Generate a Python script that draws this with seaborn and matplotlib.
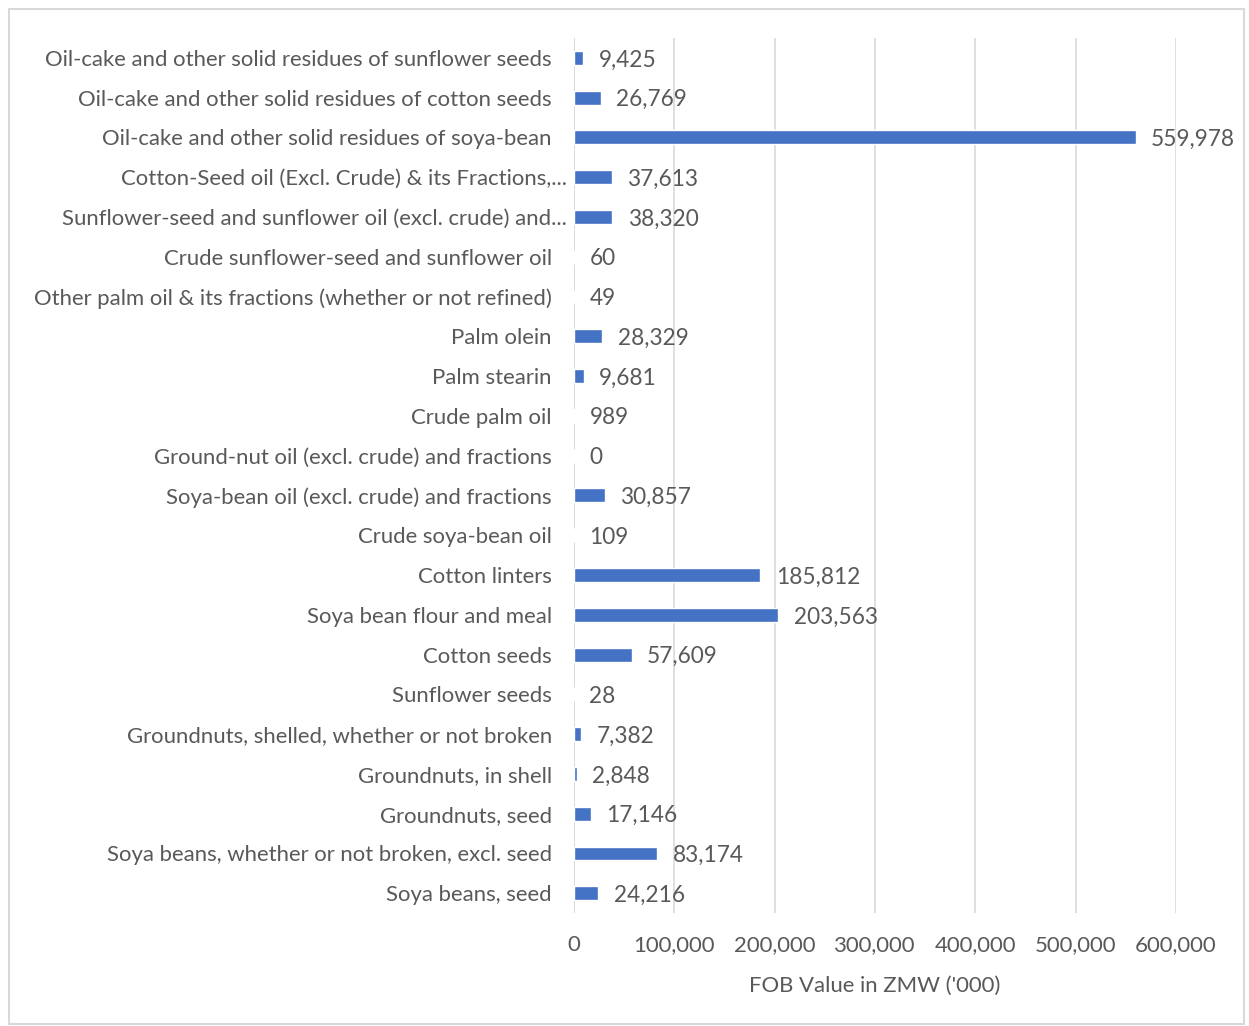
import matplotlib
matplotlib.use("Agg")
import matplotlib.pyplot as plt
import matplotlib.transforms as mtransforms
import seaborn as sns
import pandas as pd
from matplotlib.patches import Rectangle

categories = [
    "Oil-cake and other solid residues of sunflower seeds",
    "Oil-cake and other solid residues of cotton seeds",
    "Oil-cake and other solid residues of soya-bean",
    "Cotton-Seed oil (Excl. Crude) & its Fractions,...",
    "Sunflower-seed and sunflower oil (excl. crude) and...",
    "Crude sunflower-seed and sunflower oil",
    "Other palm oil & its fractions (whether or not refined)",
    "Palm olein",
    "Palm stearin",
    "Crude palm oil",
    "Ground-nut oil (excl. crude) and fractions",
    "Soya-bean oil (excl. crude) and fractions",
    "Crude soya-bean oil",
    "Cotton linters",
    "Soya bean flour and meal",
    "Cotton seeds",
    "Sunflower seeds",
    "Groundnuts, shelled, whether or not broken",
    "Groundnuts, in shell",
    "Groundnuts, seed",
    "Soya beans, whether or not broken, excl. seed",
    "Soya beans, seed",
]
values = [9425, 26769, 559978, 37613, 38320, 60, 49, 28329, 9681, 989, 0,
          30857, 109, 185812, 203563, 57609, 28, 7382, 2848, 17146, 83174, 24216]
x_ticks = [0, 100000, 200000, 300000, 400000, 500000, 600000]
x_label = "FOB Value in ZMW ('000)"

sns.set_theme(style="white")
plt.rcParams['font.family'] = ['Lato', 'DejaVu Sans']
text_color = "#595959"
fs = 15.9

df = pd.DataFrame({"category": categories, "value": values})

fig = plt.figure(figsize=(12.49, 10.26), dpi=100)
ax = fig.add_axes([0.4596, 0.110, 0.4820, 0.853])
sns.barplot(data=df, y="category", x="value", orient="h", color="#4472C4",
            width=0.35, saturation=1, ax=ax, order=categories)

ax.set_xlim(0, 600000)
ax.set_ylim(len(categories) - 0.5, -0.5)
ax.set_xticks(x_ticks)
ax.set_xticklabels([f"{t:,}" for t in x_ticks], fontsize=fs, color=text_color)
ax.tick_params(axis="y", labelsize=fs, labelcolor=text_color, length=0, pad=16)
ax.tick_params(axis="x", length=0, pad=16)
ax.set_ylabel("")
ax.set_xlabel(x_label, fontsize=fs, color=text_color, labelpad=15)
ax.grid(axis="x", color="#d9d9d9", linewidth=1.2)
ax.set_axisbelow(True)
for s in ax.spines.values():
    s.set_visible(False)
ax.axvline(0, color="#d9d9d9", linewidth=1.2, zorder=0)

# truncated labels sit closer to the axis in the reference
shift = mtransforms.ScaledTranslation(0.15, 0, fig.dpi_scale_trans)
for lab in ax.get_yticklabels():
    if lab.get_text().endswith("..."):
        lab.set_transform(lab.get_transform() + shift)

for i, v in enumerate(values):
    ax.annotate(f"{v:,}", xy=(v, i), xytext=(11, -1.5), textcoords="offset points",
                va="center", ha="left", fontsize=16.3, color=text_color)

fig.patches.append(Rectangle((0.0072, 0.0020), 0.9888, 0.9893, transform=fig.transFigure,
                             fill=False, edgecolor="#d9d9d9", linewidth=1.5))

fig.savefig("out.png", dpi=100)
